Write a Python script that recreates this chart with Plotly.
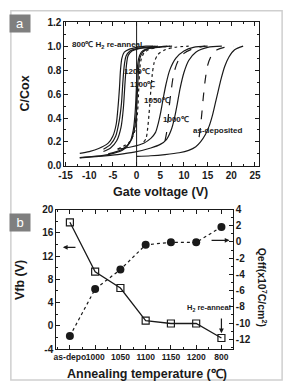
import plotly.graph_objects as go

# ---------------- Panel a data (C-V curves) ----------------
h2_1_v = [-12, -10, -8, -6, -5, -4.3, -3.9, -3.6, -3.4, -3.1, -2.6, -1.5, 0, 2, 3.5]
h2_1_c = [0.105, 0.12, 0.145, 0.19, 0.25, 0.35, 0.5, 0.66, 0.8, 0.9, 0.95, 0.975, 0.99, 1.0, 1.0]
h2_2_v = [-7, -5.5, -4.4, -3.7, -3.2, -2.9, -2.6, -2.2, -1.4, 0, 2, 4]
h2_2_c = [0.14, 0.18, 0.25, 0.37, 0.52, 0.7, 0.84, 0.92, 0.96, 0.98, 0.99, 1.0]
h2_3_v = [-7, -5.5, -4.2, -3.3, -2.8, -2.5, -2.2, -1.8, -1, 0.5, 3, 4.5]
h2_3_c = [0.12, 0.15, 0.21, 0.32, 0.48, 0.66, 0.82, 0.92, 0.96, 0.98, 0.99, 1.0]

a1200_1_v = [-12, -9, -6, -3, -1.5, -0.7, -0.3, -0.1, 0.1, 0.4, 1, 2, 4, 6.5]
a1200_1_c = [0.07, 0.08, 0.095, 0.13, 0.19, 0.3, 0.45, 0.6, 0.78, 0.89, 0.95, 0.975, 0.99, 1.0]
a1200_2_v = [-6, -3, -1.2, -0.4, 0.0, 0.2, 0.4, 0.7, 1.3, 2.5, 4.5, 7]
a1200_2_c = [0.1, 0.14, 0.21, 0.32, 0.48, 0.64, 0.8, 0.9, 0.95, 0.98, 0.99, 1.0]
a1100d_1_v = [-4, -1.5, -0.3, 0.2, 0.4, 0.6, 0.9, 1.5, 2.5, 4.5, 7.5]
a1100d_1_c = [0.14, 0.2, 0.3, 0.45, 0.6, 0.76, 0.88, 0.94, 0.97, 0.99, 1.0]
a1100d_2_v = [1.5, 2.0, 2.3, 2.6, 2.8, 3.0, 3.3, 3.7, 4.5, 6, 8, 11]
a1100d_2_c = [0.2, 0.23, 0.3, 0.42, 0.52, 0.63, 0.76, 0.86, 0.93, 0.97, 0.99, 1.0]

a1050_v = [-4, -1, 1.5, 3, 4, 4.6, 5.1, 5.6, 6.2, 7, 8.3, 10, 12, 15]
a1050_c = [0.14, 0.16, 0.19, 0.23, 0.28, 0.36, 0.45, 0.56, 0.68, 0.8, 0.9, 0.96, 0.99, 1.0]
a1000d_v = [6.0, 6.3, 6.6, 6.9, 7.3, 7.9, 8.8, 10, 12, 14.5]
a1000d_c = [0.21, 0.27, 0.37, 0.5, 0.63, 0.78, 0.88, 0.94, 0.98, 1.0]
a1000_v = [-12, -8, -4, -0.5, 3, 5, 6.3, 7.3, 8, 8.6, 9.2, 10, 11, 12.5, 15, 18]
a1000_c = [0.068, 0.08, 0.095, 0.115, 0.15, 0.18, 0.22, 0.3, 0.4, 0.52, 0.65, 0.78, 0.88, 0.95, 0.99, 1.0]

asdep_v = [0, 3, 6, 9, 11, 12.5, 13.5, 14.5, 15.3, 16, 16.6, 17.2, 17.8, 18.6, 19.5, 20.7, 22.5]
asdep_c = [0.08, 0.085, 0.095, 0.11, 0.13, 0.16, 0.2, 0.26, 0.33, 0.42, 0.52, 0.62, 0.72, 0.83, 0.91, 0.97, 1.0]
asdepd_v = [13.2, 13.5, 13.8, 14.1, 14.5, 15.0, 15.8, 17, 18.5, 20.5]
asdepd_c = [0.24, 0.33, 0.45, 0.58, 0.72, 0.84, 0.92, 0.97, 0.99, 1.0]

x_ticks_a = [-15, -10, -5, 0, 5, 10, 15, 20, 25]
y_ticks_a = [0.0, 0.2, 0.4, 0.6, 0.8, 1.0, 1.2]

# ---------------- Panel b data ----------------
anneal_labels = ["as-depo", "1000", "1050", "1100", "1150", "1200", "800"]
vfb = [17.8, 9.3, 6.5, 0.9, 0.4, 0.4, -2.1]
qeff = [-11.6, -5.8, -3.4, -0.35, -0.05, -0.05, 1.85]
vfb_ticks = [-4, 0, 4, 8, 12, 16, 20]
qeff_ticks = [-12, -10, -8, -6, -4, -2, 0, 2, 4]

FONT = "Liberation Sans"
BLK = "#1a1a1a"

fig = go.Figure()

curves = [
    (h2_1_v, h2_1_c, "solid"), (h2_2_v, h2_2_c, "solid"), (h2_3_v, h2_3_c, "solid"),
    (a1200_1_v, a1200_1_c, "solid"), (a1200_2_v, a1200_2_c, "solid"),
    (a1100d_1_v, a1100d_1_c, "dot"), (a1100d_2_v, a1100d_2_c, "dot"),
    (a1050_v, a1050_c, "solid"), (a1000d_v, a1000d_c, "dash"), (a1000_v, a1000_c, "solid"),
    (asdep_v, asdep_c, "solid"), (asdepd_v, asdepd_c, "dash"),
]
for vx, cy, dash in curves:
    fig.add_trace(go.Scatter(x=vx, y=cy, mode="lines", xaxis="x", yaxis="y",
                             line=dict(color=BLK, width=1.2, dash=dash, shape="spline", smoothing=0.8),
                             showlegend=False, hoverinfo="skip"))

xs_b = list(range(len(anneal_labels)))
fig.add_trace(go.Scatter(x=xs_b, y=vfb, mode="lines+markers", xaxis="x2", yaxis="y2",
                         line=dict(color=BLK, width=1.3),
                         marker=dict(symbol="square-open", size=7, color=BLK, line=dict(width=1.2)),
                         showlegend=False))
fig.add_trace(go.Scatter(x=xs_b, y=qeff, mode="lines+markers", xaxis="x2", yaxis="y3",
                         line=dict(color=BLK, width=1.2, dash="dot"),
                         marker=dict(symbol="circle", size=8, color=BLK),
                         showlegend=False))

tickf = dict(family=FONT, size=10, color=BLK, weight="bold")
ax_common = dict(showline=True, linecolor=BLK, linewidth=1, ticks="inside", ticklen=4,
                 tickcolor=BLK, showgrid=False, zeroline=False, tickfont=tickf)

fig.update_layout(
    width=288, height=389, margin=dict(l=0, r=0, t=0, b=0),
    paper_bgcolor="white", plot_bgcolor="white",
    xaxis=dict(domain=[0.2083, 0.9028], anchor="y", range=[-15.26, 25.8], tickangle=0,
               tickvals=x_ticks_a, ticktext=[str(v) for v in x_ticks_a], mirror="ticks",
               minor=dict(ticks="inside", ticklen=2, dtick=2.5, tick0=0, tickcolor=BLK), **ax_common),
    yaxis=dict(domain=[0.5758, 0.957], anchor="x", range=[0, 1.2],
               tickvals=y_ticks_a, ticktext=[f"{v:.1f}" for v in y_ticks_a], mirror="ticks",
               minor=dict(ticks="inside", ticklen=2, dtick=0.1, tick0=0, tickcolor=BLK), **ax_common),
    xaxis2=dict(domain=[0.1795, 0.810], anchor="y2", range=[-0.54, 6.45], tickangle=0,
                tickvals=xs_b, ticktext=anneal_labels, mirror="ticks",
                minor=dict(ticks="inside", ticklen=2, dtick=0.5, tick0=0, tickcolor=BLK), **ax_common),
    yaxis2=dict(domain=[0.09, 0.4602], anchor="x2", range=[-4, 20],
                tickvals=vfb_ticks, ticktext=[str(v) for v in vfb_ticks],
                minor=dict(ticks="inside", ticklen=2, dtick=2, tick0=0, tickcolor=BLK), **ax_common),
    yaxis3=dict(overlaying="y2", side="right", anchor="x2", range=[-13.2, 4],
                tickvals=qeff_ticks, ticktext=[str(v) for v in qeff_ticks],
                minor=dict(ticks="inside", ticklen=2, dtick=1, tick0=0, tickcolor=BLK), **ax_common),
)
fig.layout.xaxis2.tickfont = dict(family=FONT, size=8.5, color=BLK, weight="bold")

fig.add_vline(x=0, line=dict(color=BLK, width=1), xref="x", yref="y")

lab = dict(family=FONT, size=8, color=BLK, weight="bold")
inner = [
    ("800\u2103 H<sub>2</sub> re-anneal", -6.2, 1.01),
    ("1200\u2103", 0.05, 0.79),
    ("1100\u2103", 1.3, 0.68),
    ("1050\u2103", 4.35, 0.55),
    ("1000\u2103", 8.4, 0.385),
    ("as-deposited", 17.0, 0.295),
]
for t, xv, yv in inner:
    fig.add_annotation(text=t, x=xv, y=yv, xref="x", yref="y", showarrow=False, font=lab)

# panel b annotations
fig.add_annotation(text="H<sub>2</sub> re-anneal", x=5.49, y=3.0, xref="x2", yref="y2",
                   showarrow=False, font=dict(family=FONT, size=7.5, color=BLK, weight="bold"))
fig.add_annotation(x=6.0, y=-1.3, ax=6.0, ay=1.5, xref="x2", yref="y2", axref="x2", ayref="y2",
                   text="", showarrow=True, arrowhead=2, arrowsize=0.8, arrowwidth=1.2, arrowcolor=BLK)
fig.add_annotation(x=-0.28, y=13.5, ax=0.28, ay=13.5, xref="x2", yref="y2", axref="x2", ayref="y2",
                   text="", showarrow=True, arrowhead=2, arrowsize=0.8, arrowwidth=1.2, arrowcolor=BLK)
fig.add_annotation(x=6.32, y=14.7, ax=5.55, ay=14.7, xref="x2", yref="y2", axref="x2", ayref="y2",
                   text="", showarrow=True, arrowhead=2, arrowsize=0.8, arrowwidth=1.2, arrowcolor=BLK)

title_f = dict(family=FONT, size=12.5, color=BLK, weight="bold")
ctr = dict(xref="paper", yref="paper", showarrow=False, xanchor="center", yanchor="middle")
fig.add_annotation(text="C/Cox", x=0.069, y=0.769, textangle=-90, font=title_f, **ctr)
fig.add_annotation(text="Gate voltage (V)", x=0.552, y=0.506, font=title_f, **ctr)
fig.add_annotation(text="Vfb (V)", x=0.052, y=0.272, textangle=-90, font=title_f, **ctr)
fig.add_annotation(text="Qeff(x10<sup>7</sup>C/cm<sup>2</sup>)", x=0.915, y=0.255, textangle=90,
                   font=dict(family=FONT, size=10.5, color=BLK, weight="bold"), **ctr)
fig.add_annotation(text="Annealing temperature (\u2103)", x=0.503, y=0.023, font=title_f, **ctr)

# frame and panel tags
fig.add_shape(type="rect", xref="paper", yref="paper", x0=5/288, x1=284/288, y0=1-386/389, y1=1-5/389,
              line=dict(color="#cfcfcf", width=1.5), fillcolor="rgba(0,0,0,0)", layer="below")
for tag, ytop in [("a", 10), ("b", 215)]:
    fig.add_annotation(text=tag, x=14/288, y=1-(ytop+8.5)/389, width=20, height=17,
                       bgcolor="#7f7f7f", borderpad=0,
                       font=dict(family=FONT, size=13, color="white"), **ctr)

fig.write_html("out.html")
